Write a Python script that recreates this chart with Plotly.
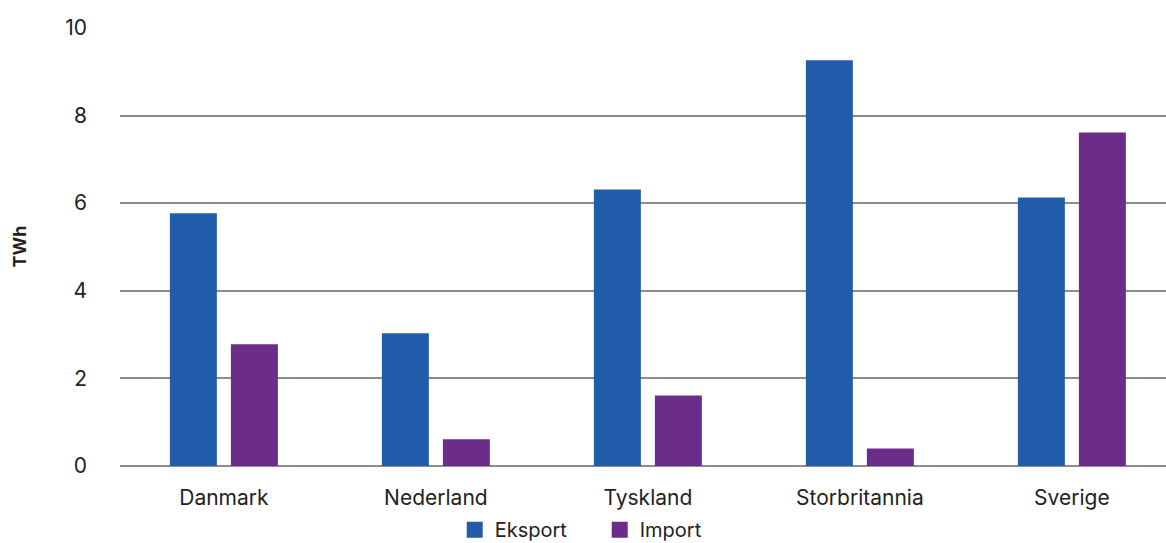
import plotly.graph_objects as go

categories = ["Danmark", "Nederland", "Tyskland", "Storbritannia", "Sverige"]
eksport = [5.77, 3.03, 6.31, 9.26, 6.13]
importv = [2.78, 0.61, 1.61, 0.40, 7.61]
y_ticks = [0, 2, 4, 6, 8, 10]

BLUE = "#225DAB"
PURPLE = "#6B2C8A"
FONT = "Inter"

fig = go.Figure()
fig.add_trace(go.Bar(name="Eksport", x=categories, y=eksport, showlegend=False,
                     marker=dict(color=BLUE, line=dict(width=0))))
fig.add_trace(go.Bar(name="Import", x=categories, y=importv, showlegend=False,
                     marker=dict(color=PURPLE, line=dict(width=0))))
# legend entries with larger square swatches
for name, col in (("Eksport", BLUE), ("Import", PURPLE)):
    fig.add_trace(go.Scatter(name=name, x=[None], y=[None], mode="markers",
                             marker=dict(symbol="square", size=18, color=col)))

fig.update_layout(
    width=1166, height=543,
    margin=dict(l=120, r=0, t=27, b=77, autoexpand=False),
    paper_bgcolor="white", plot_bgcolor="white",
    barmode="group", bargap=0.4245, bargroupgap=0.23,
    font=dict(family=FONT, size=21, color="#222222"),
    showlegend=True,
    legend=dict(orientation="h", x=0.32, xanchor="left", y=-0.145, yanchor="middle",
                font=dict(size=20), itemwidth=30, tracegroupgap=0,
                entrywidth=100, entrywidthmode="pixels"),
    xaxis=dict(range=[-0.49, 4.444], showgrid=False, zeroline=False, showline=False,
               ticks="", ticklabelstandoff=17, tickfont=dict(size=21), automargin=False),
    yaxis=dict(range=[0, 10.02], tickvals=y_ticks, showgrid=True, gridcolor="#8C8C8C", gridwidth=1.5,
               zeroline=True, zerolinecolor="#8C8C8C", zerolinewidth=1.5, showline=False,
               ticks="", ticklabelstandoff=32, tickfont=dict(size=21), automargin=False,
               title=dict(text="<b>TWh</b>", font=dict(size=18), standoff=33)),
)

fig.write_html("out.html")
